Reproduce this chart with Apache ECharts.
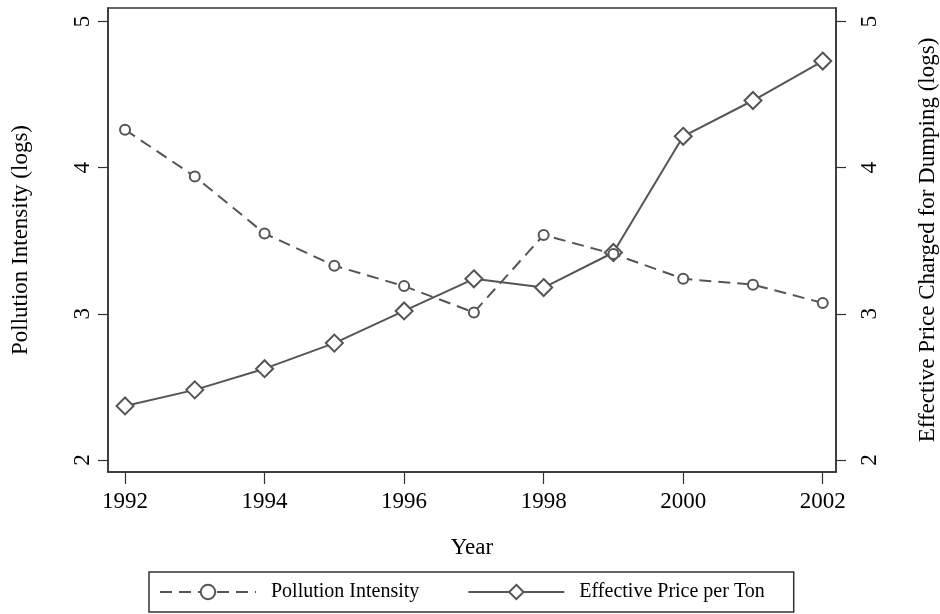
<!DOCTYPE html>
<html>
<head>
<meta charset="utf-8">
<script src="https://cdn.jsdelivr.net/npm/echarts@6/dist/echarts.min.js"></script>
<style>
html,body{margin:0;padding:0;background:#fff;}
#chart{width:940px;height:614px;}
</style>
</head>
<body>
<div id="chart"></div>
<script>
const years = [1992, 1993, 1994, 1995, 1996, 1997, 1998, 1999, 2000, 2001, 2002];
const pollutionIntensity = [4.26, 3.94, 3.55, 3.33, 3.19, 3.01, 3.54, 3.41, 3.24, 3.20, 3.075];
const effectivePrice = [2.37, 2.48, 2.625, 2.80, 3.02, 3.24, 3.18, 3.42, 4.215, 4.46, 4.73];
const xTicks = [1992, 1994, 1996, 1998, 2000, 2002];
const yTicks = [2, 3, 4, 5];

const FONT = 'Liberation Serif';
const LINE = '#555555';
const AX = '#333333';

const chart = echarts.init(document.getElementById('chart'), null, {renderer: 'canvas'});

function yAxisCfg(pos, name, nameGap, labelMargin) {
  return {
    type: 'value',
    position: pos,
    min: 1.918,
    max: 5.093,
    name: name,
    nameLocation: 'middle',
    nameRotate: 90,
    nameGap: nameGap,
    nameTextStyle: {fontFamily: FONT, fontSize: 23, color: '#000'},
    axisLine: {show: true, lineStyle: {color: AX, width: 1.5}},
    axisTick: {show: true, length: 10, customValues: yTicks, lineStyle: {color: AX, width: 1.2}},
    axisLabel: {show: true, rotate: 90, margin: labelMargin, customValues: yTicks,
      fontFamily: FONT, fontSize: 23, color: '#000'},
    splitLine: {show: false}
  };
}

const option = {
  backgroundColor: '#fff',
  animation: false,
  grid: {left: 108, right: 104, top: 8, bottom: 142, show: true, borderColor: AX, borderWidth: 1.5,
    containLabel: false, outerBoundsMode: 'none'},
  xAxis: {
    type: 'value',
    min: 1991.756,
    max: 2002.19,
    name: 'Year',
    nameLocation: 'middle',
    nameGap: 64,
    nameTextStyle: {fontFamily: FONT, fontSize: 23, color: '#000'},
    axisLine: {show: true, onZero: false, lineStyle: {color: AX, width: 1.5}},
    axisTick: {show: true, length: 12, customValues: xTicks, lineStyle: {color: AX, width: 1.2}},
    axisLabel: {show: true, margin: 18, customValues: xTicks,
      fontFamily: FONT, fontSize: 23, color: '#000', formatter: v => String(v)},
    splitLine: {show: false}
  },
  yAxis: [
    yAxisCfg('left', 'Pollution Intensity (logs)', 76, 14),
    yAxisCfg('right', 'Effective Price Charged for Dumping (logs)', 80, 22)
  ],
  legend: {
    left: 149,
    top: 572,
    padding: [10, 29, 10, 10],
    borderColor: AX,
    borderWidth: 1.5,
    itemWidth: 96,
    itemHeight: 18,
    itemGap: 48,
    textStyle: {fontFamily: FONT, fontSize: 20, color: '#000', padding: [0, 0, 0, 10]},
    data: ['Pollution Intensity', 'Effective Price per Ton']
  },
  series: [
    {
      name: 'Pollution Intensity',
      type: 'line',
      yAxisIndex: 0,
      data: years.map((y, i) => [y, pollutionIntensity[i]]),
      symbol: 'circle',
      symbolSize: 10,
      lineStyle: {color: LINE, width: 2, type: [12, 7]},
      itemStyle: {color: '#fff', borderColor: LINE, borderWidth: 2},
      z: 3
    },
    {
      name: 'Effective Price per Ton',
      type: 'line',
      yAxisIndex: 1,
      data: years.map((y, i) => [y, effectivePrice[i]]),
      symbol: 'diamond',
      symbolSize: 17,
      lineStyle: {color: LINE, width: 2, type: 'solid'},
      itemStyle: {color: '#fff', borderColor: LINE, borderWidth: 2},
      z: 2
    }
  ]
};
chart.setOption(option);
</script>
</body>
</html>
